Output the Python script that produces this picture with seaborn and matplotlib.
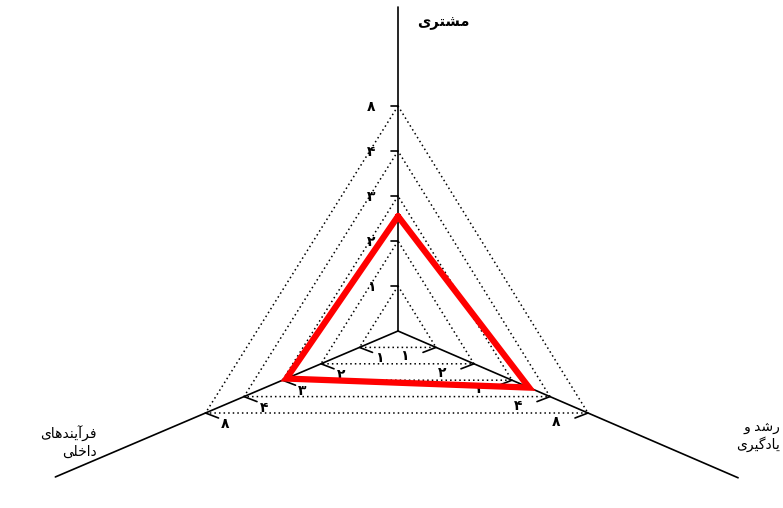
import numpy as np
import pandas as pd
import matplotlib
matplotlib.use("Agg")
import matplotlib.pyplot as plt
import seaborn as sns

# data
categories = ["مشتری", "فرآیندهای\nداخلی", "رشد و\nیادگیری"]
scores = [2.55, 2.9, 3.45]
levels = [1, 2, 3, 4, 5]
tick_labels = ["۱", "۲", "۳", "۴", "۸"]

# presentation forms (isolated, final, initial, medial) so the Persian text joins
FORMS = {
    "ا": ("\uFE8D", "\uFE8E", None, None),
    "آ": ("\uFE81", "\uFE82", None, None),
    "ت": ("\uFE95", "\uFE96", "\uFE97", "\uFE98"),
    "خ": ("\uFEA5", "\uFEA6", "\uFEA7", "\uFEA8"),
    "د": ("\uFEA9", "\uFEAA", None, None),
    "ر": ("\uFEAD", "\uFEAE", None, None),
    "ش": ("\uFEB5", "\uFEB6", "\uFEB7", "\uFEB8"),
    "ف": ("\uFED1", "\uFED2", "\uFED3", "\uFED4"),
    "ل": ("\uFEDD", "\uFEDE", "\uFEDF", "\uFEE0"),
    "م": ("\uFEE1", "\uFEE2", "\uFEE3", "\uFEE4"),
    "ن": ("\uFEE5", "\uFEE6", "\uFEE7", "\uFEE8"),
    "ه": ("\uFEE9", "\uFEEA", "\uFEEB", "\uFEEC"),
    "و": ("\uFEED", "\uFEEE", None, None),
    "ی": ("\uFBFC", "\uFBFD", "\uFBFE", "\uFBFF"),
    "گ": ("\uFB92", "\uFB93", "\uFB94", "\uFB95"),
}


def shape_line(s):
    out = []
    for i, ch in enumerate(s):
        if ch not in FORMS:
            out.append(ch)
            continue
        iso, fin, ini, med = FORMS[ch]
        prev = s[i - 1] if i > 0 else ""
        nxt = s[i + 1] if i + 1 < len(s) else ""
        jp = prev in FORMS and FORMS[prev][2] is not None
        jn = ini is not None and nxt in FORMS
        if jp and jn:
            out.append(med)
        elif jp:
            out.append(fin)
        elif jn:
            out.append(ini)
        else:
            out.append(iso)
    return "".join(out)[::-1]


def shape(s):
    return "\n".join(shape_line(l) for l in s.split("\n"))


sns.set_theme(style="white")
plt.rcParams["font.family"] = ["DejaVu Sans"]

fig = plt.figure(figsize=(7.83, 5.08), dpi=100)
ax = fig.add_axes([0, 0, 1, 1])

# layout of the three spokes (pixel space)
center = np.array([398.0, 331.0])
unit = [np.array([0.0, -45.0]), np.array([-38.5, 16.4]), np.array([38.0, 16.4])]
spoke_len = [7.2, 8.9, 8.95]
tick_dir = [np.array([-7.0, 0.0]), np.array([13.0, 5.0]), np.array([-13.0, 5.0])]
label_off = [np.array([-27.0, 1.0]), np.array([20.0, 11.0]), np.array([-32.0, 9.0])]

# spokes
for u, L in zip(unit, spoke_len):
    end = center + u * L
    ax.plot([center[0], end[0]], [center[1], end[1]], color="black", lw=1.2, zorder=2)

# dotted grid triangles
for lv in levels:
    pts = [center + u * lv for u in unit] + [center + unit[0] * lv]
    ax.plot([p[0] for p in pts], [p[1] for p in pts], color="black", lw=1.1,
            linestyle=(0, (1, 2)), zorder=1)

# tick marks and labels
for u, td, lo in zip(unit, tick_dir, label_off):
    for lv, lab in zip(levels, tick_labels):
        p = center + u * lv
        ax.plot([p[0], p[0] + td[0]], [p[1], p[1] + td[1]], color="black", lw=1.2, zorder=2)
        ax.text(p[0] + lo[0], p[1] + lo[1], lab, ha="center", va="center",
                fontsize=10, fontweight="bold", color="black", zorder=3)

# score triangle
pts = [center + u * v for u, v in zip(unit, scores)]
pts.append(pts[0])
df = pd.DataFrame({"x": [p[0] for p in pts], "y": [p[1] for p in pts]})
sns.lineplot(data=df, x="x", y="y", sort=False, estimator=None, color="#ff0000",
             lw=4.5, solid_joinstyle="miter", ax=ax, zorder=4)
ax.set_xlim(0, 783)
ax.set_ylim(508, 0)
ax.axis("off")

# axis names
ax.text(443, 23, shape(categories[0]), ha="center", va="center",
        fontsize=10.5, fontweight="bold", color="black")
ax.text(97, 442, shape(categories[1]), ha="right", va="center", multialignment="right",
        fontsize=10, color="black", linespacing=1.25)
ax.text(780, 436, shape(categories[2]), ha="right", va="center", multialignment="right",
        fontsize=10, color="black", linespacing=1.25)

fig.savefig("out.png", dpi=100)
